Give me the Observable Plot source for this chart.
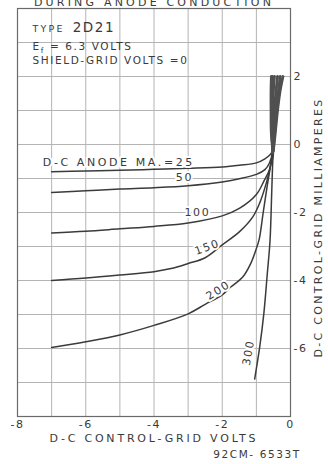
<!DOCTYPE html>
<html><head><meta charset="utf-8">
<script src="https://cdn.jsdelivr.net/npm/d3@7"></script>
<script src="https://cdn.jsdelivr.net/npm/@observablehq/plot@0.6"></script>
<style>
html,body{margin:0;padding:0;background:#fff;}
#chart svg{display:block;}
#chart svg text{font-family:"DejaVu Sans",sans-serif;letter-spacing:1.6px;}
</style></head><body><div id="chart"></div>
<script>
// Series: d-c anode milliamperes
const anodeMA = [25, 50, 100, 150, 200, 300];
// Control-grid volts (x) and control-grid milliamperes (y) per series
const volts25 = [-7, -6, -5, -4, -3, -2, -1.5, -1, -0.75, -0.6, -0.5, -0.45, -0.38, -0.3, -0.22];
const mA25    = [-0.80, -0.78, -0.76, -0.73, -0.70, -0.66, -0.61, -0.54, -0.42, -0.30, -0.15, 0.3, 1.0, 1.6, 2];
const volts50 = [-7, -6, -5, -4, -3, -2, -1.5, -1, -0.75, -0.62, -0.52, -0.48, -0.43, -0.35, -0.3];
const mA50    = [-1.41, -1.36, -1.31, -1.27, -1.21, -1.10, -1.01, -0.88, -0.74, -0.55, -0.2, 0.3, 1.0, 1.6, 2];
const volts100 = [-7, -6, -5, -4, -3, -2, -1.5, -1, -0.78, -0.62, -0.53, -0.5, -0.47, -0.42, -0.38];
const mA100    = [-2.60, -2.55, -2.48, -2.41, -2.31, -2.10, -1.88, -1.47, -1.08, -0.75, -0.25, 0.3, 1.0, 1.6, 2];
const volts150 = [-7, -6, -5, -4, -3.5, -3, -2.5, -2, -1.5, -1.1, -0.88, -0.7, -0.58, -0.52, -0.53, -0.52, -0.5, -0.47];
const mA150    = [-4.0, -3.93, -3.84, -3.74, -3.65, -3.5, -3.33, -2.95, -2.57, -2.12, -1.66, -1.1, -0.6, -0.2, 0.3, 1.0, 1.6, 2];
const volts200 = [-7, -6, -5, -4, -3, -2.5, -2, -1.75, -1.4, -1.17, -1.02, -0.92, -0.8, -0.68, -0.58, -0.52, -0.55, -0.55, -0.54, -0.53];
const mA200    = [-5.97, -5.8, -5.6, -5.32, -4.98, -4.7, -4.42, -4.19, -3.9, -3.51, -3.12, -2.8, -2.0, -1.2, -0.6, -0.2, 0.3, 1.0, 1.6, 2];
const volts300 = [-1.05, -0.9, -0.78, -0.68, -0.6, -0.55, -0.52, -0.5, -0.56, -0.57, -0.57, -0.56];
const mA300    = [-6.9, -5.94, -4.96, -3.8, -2.83, -1.4, -0.5, -0.2, 0.3, 1.0, 1.6, 2];

// Axis ticks
const xTicks = [-8, -6, -4, -2, 0];
const yTicks = [-6, -4, -2, 0, 2];
const xGrid = [-8, -7, -6, -5, -4, -3, -2, -1, 0];
const yGrid = [-8, -7, -6, -5, -4, -3, -2, -1, 0, 1, 2, 3, 4];

// Curve labels
const labelText = ["D-C ANODE MA.=25", "50", "100", "150", "200", "300"];
const labelVolts = [-5.03, -3.11, -2.73, -2.44, -2.12, -1.23];
const labelMA = [-0.54, -0.98, -1.99, -3.02, -4.29, -6.12];
const labelAngle = [0, 0, 0, -20, -32, -80];

// Notes
const noteText = ["TYPE 2D21", "E_f = 6.3 VOLTS", "SHIELD-GRID VOLTS =0"];
const noteVolts = [-7.56, -7.56, -7.56];
const noteMA = [3.41, 2.88, 2.46];

const titleText = "DURING ANODE CONDUCTION";
const xLabel = "D-C CONTROL-GRID VOLTS";
const yLabel = "D-C CONTROL-GRID MILLIAMPERES";
const codeText = "92CM- 6533T";

const seriesVolts = [volts25, volts50, volts100, volts150, volts200, volts300];
const seriesMA = [mA25, mA50, mA100, mA150, mA200, mA300];
const rows = anodeMA.flatMap((s, k) => seriesVolts[k].map((v, i) => ({series: s, v, g: seriesMA[k][i]})));
const upper = rows.filter(d => d.g >= -0.25);
const labels = labelText.map((t, i) => ({t, v: labelVolts[i], g: labelMA[i], r: labelAngle[i]}));
const notes = noteText.map((t, i) => ({t, v: noteVolts[i], g: noteMA[i]}));
const fmt = d => (d < 0 ? "-" : "") + Math.abs(d);
const ink = "#3a3a3a";

const plot = Plot.plot({
  width: 328, height: 464,
  marginLeft: 17, marginRight: 38, marginTop: 8, marginBottom: 48,
  style: {fontFamily: "DejaVu Sans, sans-serif", fontSize: "11px", color: ink, background: "white"},
  x: {domain: [-8, 0]},
  y: {domain: [-8, 4]},
  marks: [
    Plot.gridX(xGrid, {stroke: "#b4b4b4", strokeOpacity: 1, strokeWidth: 1}),
    Plot.gridY(yGrid, {stroke: "#b4b4b4", strokeOpacity: 1, strokeWidth: 1}),
    Plot.frame({stroke: "#6a6a6a", strokeWidth: 1.2}),
    Plot.axisX(xTicks, {tickSize: 0, tickPadding: 4, tickFormat: fmt, label: null, fontSize: 11}),
    Plot.axisY(yTicks, {anchor: "right", tickSize: 0, tickPadding: 3, textAnchor: "start", tickFormat: fmt, label: null, fontSize: 11}),
    Plot.line(rows, {x: "v", y: "g", z: "series", curve: "catmull-rom", stroke: "#3b3b3b", strokeWidth: 1.5}),
    Plot.line(upper, {x: "v", y: "g", z: "series", curve: "catmull-rom", stroke: "#505050", strokeWidth: 2.8}),
    Plot.text(labels, {x: "v", y: "g", text: "t", rotate: "r", fontSize: 11, fill: ink, stroke: "white", strokeWidth: 4}),
    Plot.text(notes, {x: "v", y: "g", text: "t", textAnchor: "start", fontSize: 10.5, fill: ink}),
    Plot.text([titleText], {text: d => d, frameAnchor: "top", textAnchor: "middle", dy: -3, lineAnchor: "bottom", fontSize: 11, fill: ink}),
    Plot.text([xLabel], {text: d => d, frameAnchor: "bottom", textAnchor: "middle", dy: 25, fontSize: 11, fill: ink}),
    Plot.text([yLabel], {text: d => d, frameAnchor: "right", textAnchor: "middle", dx: 28, dy: 15, rotate: -90, fontSize: 11, fill: ink}),
    Plot.text([codeText], {text: d => d, frameAnchor: "bottom", textAnchor: "middle", dx: 103, dy: 41, fontSize: 10.5, fill: ink})
  ]
});
document.getElementById("chart").append(plot);

// text tweaks: letter spacing, subscript f, mixed sizes
const spacing = new Map([[titleText, 3.2], [xLabel, 2.8], [yLabel, 2.3], [labelText[0], 2.6]]);
d3.select(plot).selectAll("text").each(function() {
  const t = d3.select(this);
  const s = t.text();
  if (spacing.has(s)) t.style("letter-spacing", spacing.get(s) + "px");
  if (s === noteText[0]) {
    t.text(null);
    t.append("tspan").attr("font-size", 9.5).style("letter-spacing", "2.2px").text("TYPE");
    t.append("tspan").attr("font-size", 13.5).attr("dx", 8).text("2D21");
  } else if (s === noteText[1]) {
    t.text(null);
    t.append("tspan").text("E");
    t.append("tspan").attr("font-size", 7.5).attr("dy", 3).text("f");
    t.append("tspan").attr("dy", -3).text(" = 6.3 VOLTS");
  }
});
</script></body></html>
